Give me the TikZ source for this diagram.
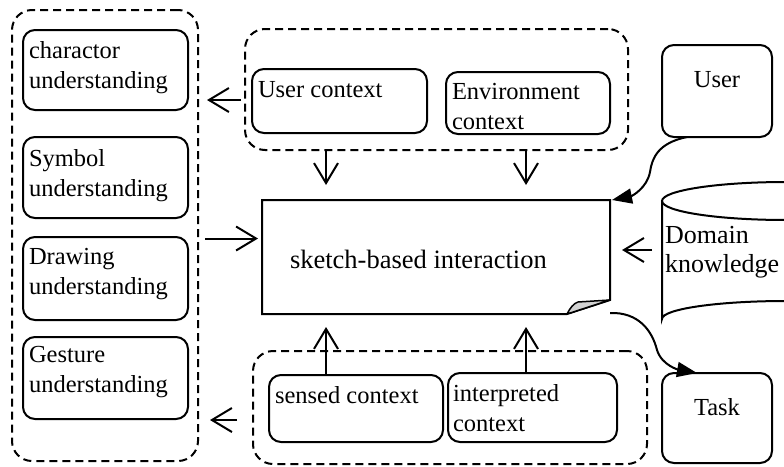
\documentclass[tikz,border=0pt]{standalone}
\usepackage{fontspec}
\setmainfont{Liberation Serif}
\usetikzlibrary{arrows.meta,calc}
\begin{document}
\begin{tikzpicture}[x=1pt,y=-1pt,
  box/.style={draw, line width=2pt, rounded corners=12pt, inner sep=0pt, outer sep=0pt, anchor=north west},
  grp/.style={draw, line width=2pt, dash pattern=on 8pt off 5pt, rounded corners=20pt, inner sep=0pt, outer sep=0pt, anchor=north west},
  txt/.style={inner sep=0pt, outer sep=0pt, anchor=north west, align=left, font=\fontsize{24.5}{30}\selectfont},
  ctxt/.style={inner sep=0pt, outer sep=0pt, anchor=base, font=\fontsize{24.5}{30}\selectfont},
  oarrow/.style={line width=2pt, -{Straight Barb[length=20pt,width=24pt]}},
  farrow/.style={line width=2pt, -{Triangle[length=20pt,width=15pt]}}]
\useasboundingbox (0,0) rectangle (784,466);
\clip (0,0) rectangle (784,466);
% groups
\node[grp, minimum width=186pt, minimum height=451pt] (leftGrp) at (12,10) {};
\node[grp, minimum width=383pt, minimum height=121pt] (topGrp) at (245,29) {};
\node[grp, minimum width=394pt, minimum height=113pt] (botGrp) at (253,351) {};
% left boxes
\node[box, minimum width=165pt, minimum height=80pt] (charBox) at (23,30) {};
\node[box, minimum width=165pt, minimum height=81pt] (symBox) at (23,137) {};
\node[box, minimum width=165pt, minimum height=83pt] (drawBox) at (23,237) {};
\node[box, minimum width=165pt, minimum height=82pt] (gestBox) at (23,337) {};
\node[txt] (charText) at (29,41.5) {charactor\\understanding};
\node[txt] (symText) at (29,149.5) {Symbol\\understanding};
\node[txt] (drawText) at (29,248.5) {Drawing\\understanding};
\node[txt] (gestText) at (29,346.5) {Gesture\\understanding};
% top boxes
\node[box, minimum width=175pt, minimum height=64pt] (ucBox) at (252,69) {};
\node[box, minimum width=164pt, minimum height=62pt] (ecBox) at (446,72) {};
\node[txt] (ucText) at (258,81) {User context};
\node[txt] (ecText) at (452,83) {Environment\\context};
% bottom boxes
\node[box, minimum width=174pt, minimum height=67pt] (scBox) at (269,375) {};
\node[box, minimum width=169pt, minimum height=69pt] (icBox) at (448,373) {};
\node[txt] (scText) at (275,386.5) {sensed context};
\node[txt] (icText) at (453,384.5) {interpreted\\context};
% right column
\node[box, minimum width=110pt, minimum height=92pt] (userBox) at (662,45) {};
\node[box, minimum width=110pt, minimum height=90pt] (taskBox) at (662,373) {};
\node[ctxt] (userText) at (717,87) {User};
\node[ctxt] (taskText) at (717,415) {Task};
% cylinder
\node[inner sep=0pt, outer sep=0pt, minimum width=248pt, minimum height=155pt] (cyl) at (786,260) {};
\draw[line width=2pt] (786,201) ellipse [x radius=124, y radius=19];
\draw[line width=2pt] (662,201) -- (662,319) arc[start angle=180, end angle=360, x radius=124, y radius=18];
\node[txt, font=\fontsize{26}{29}\selectfont] (domText) at (665,226.5) {Domain\\knowledge};
% main document shape
\node[inner sep=0pt, outer sep=0pt, anchor=north west, minimum width=348pt, minimum height=114pt] (main) at (262,200) {};
\draw[line width=2pt, line join=miter] (main.north west) -- (main.north east) -- ([yshift=14pt]main.south east) -- ([xshift=-43pt]main.south east) -- (main.south west) -- cycle;
\filldraw[fill=gray!35, line width=1.5pt, line join=round] ([xshift=-43pt]main.south east) .. controls +(3,-6) and +(-4,1) .. ([xshift=-32pt,yshift=12pt]main.south east) -- ([yshift=14pt]main.south east) -- cycle;
\node[inner sep=0pt, outer sep=0pt, anchor=base west, font=\fontsize{26.5}{30}\selectfont] (mainText) at (290,268) {sketch-based interaction};
% straight arrows
\draw[oarrow, shorten <=4pt, shorten >=9pt] ([yshift=-10.5pt]topGrp.west) -- ([yshift=-10.5pt]topGrp.west -| leftGrp.east);
\draw[oarrow, shorten <=16pt, shorten >=12pt] ([yshift=-12.5pt]botGrp.west) -- ([yshift=-12.5pt]botGrp.west -| leftGrp.east);
\draw[oarrow, shorten <=7pt, shorten >=4pt] ([yshift=-3pt]leftGrp.east) -- ([yshift=-3pt]leftGrp.east -| main.west);
\draw[oarrow, shorten >=15pt] ([xshift=-110pt]main.north |- topGrp.south) -- ([xshift=-110pt]main.north);
\draw[oarrow, shorten >=15pt] ([xshift=90pt]main.north |- topGrp.south) -- ([xshift=90pt]main.north);
\draw[oarrow, shorten >=13pt] ([xshift=-110pt]main.south |- scBox.north) -- ([xshift=-110pt]main.south);
\draw[oarrow, shorten >=13pt] ([xshift=90pt]main.south |- icBox.north) -- ([xshift=90pt]main.south);
\draw[oarrow, shorten <=10pt, shorten >=12pt] ([yshift=7pt]main.east -| cyl.west) -- ([yshift=7pt]main.east);
% curved arrows
\draw[farrow] ([xshift=-30pt]userBox.south) .. controls (658,143) and (652,158) .. (650,172) .. controls (647,188) and (632,196) .. ([xshift=2pt]main.north east);
\draw[farrow] ([yshift=1pt]main.south east) .. controls (638,312) and (652,330) .. (657,350) .. controls (662,366) and (680,370) .. ([xshift=-20pt]taskBox.north);
\end{tikzpicture}
\end{document}
